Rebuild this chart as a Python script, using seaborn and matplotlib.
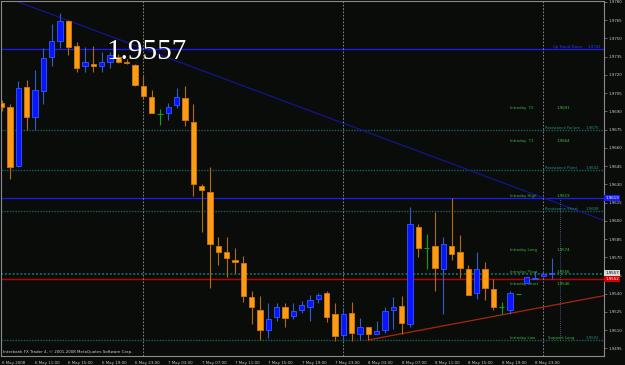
import matplotlib
matplotlib.use("Agg")
import matplotlib.pyplot as plt
import matplotlib.transforms as mtransforms
import numpy as np
import pandas as pd
import seaborn as sns

# GBPUSD-like hourly bars, 6 May 2008 07:00 -> 8 May 2008 23:00
opens = [1.9697, 1.9694, 1.9645, 1.9710, 1.9685, 1.9707, 1.9735, 1.9748, 1.9764, 1.9744,
         1.9727, 1.9729, 1.9727, 1.9731, 1.9735, 1.9731, 1.9728, 1.9711, 1.9702, 1.9688,
         1.9689, 1.9695, 1.9701, 1.9681, 1.9629, 1.9624, 1.9579, 1.9574, 1.9568, 1.9565,
         1.9537, 1.9527, 1.9510, 1.9521, 1.9529, 1.9522, 1.9527, 1.9529, 1.9536, 1.9541,
         1.9523, 1.9506, 1.9524, 1.9507, 1.9513, 1.9507, 1.9510, 1.9527, 1.9530, 1.9515,
         1.9595, 1.9578, 1.9579, 1.9560, 1.9579, 1.9574, 1.9560, 1.9541, 1.9560, 1.9544,
         1.9529, 1.9527, 1.9540, 1.9549, 1.9552, 1.9555, 1.9556]
highs = [1.9699, 1.9696, 1.9715, 1.9716, 1.9724, 1.9742, 1.9762, 1.9771, 1.9765, 1.9747,
         1.9743, 1.9744, 1.9739, 1.9739, 1.9737, 1.9733, 1.9729, 1.9719, 1.9708, 1.9692,
         1.9697, 1.9709, 1.9711, 1.9696, 1.9630, 1.9644, 1.9587, 1.9587, 1.9578, 1.9571,
         1.9542, 1.9538, 1.9532, 1.9532, 1.9532, 1.9532, 1.9534, 1.9539, 1.9541, 1.9542,
         1.9532, 1.9528, 1.9533, 1.9520, 1.9513, 1.9518, 1.9529, 1.9537, 1.9538, 1.9611,
         1.9597, 1.9589, 1.9607, 1.9587, 1.9619, 1.9588, 1.9564, 1.9574, 1.9566, 1.9552,
         1.9533, 1.9542, 1.9540, 1.9554, 1.9559, 1.9559, 1.9569]
lows = [1.9690, 1.9634, 1.9644, 1.9675, 1.9675, 1.9696, 1.9727, 1.9742, 1.9736, 1.9722,
        1.9722, 1.9722, 1.9722, 1.9726, 1.9730, 1.9729, 1.9711, 1.9700, 1.9689, 1.9679,
        1.9683, 1.9693, 1.9678, 1.9620, 1.9591, 1.9545, 1.9564, 1.9554, 1.9557, 1.9533,
        1.9515, 1.9502, 1.9504, 1.9518, 1.9513, 1.9519, 1.9524, 1.9518, 1.9532, 1.9517,
        1.9501, 1.9502, 1.9501, 1.9502, 1.9502, 1.9507, 1.9508, 1.9511, 1.9507, 1.9513,
        1.9570, 1.9560, 1.9542, 1.9523, 1.9568, 1.9553, 1.9539, 1.9536, 1.9535, 1.9527,
        1.9523, 1.9523, 1.9540, 1.9549, 1.9552, 1.9554, 1.9552]
closes = [1.9694, 1.9644, 1.9709, 1.9685, 1.9708, 1.9734, 1.9748, 1.9764, 1.9743, 1.9726,
          1.9731, 1.9727, 1.9731, 1.9736, 1.9731, 1.9730, 1.9712, 1.9703, 1.9689, 1.9688,
          1.9694, 1.9702, 1.9683, 1.9630, 1.9625, 1.9581, 1.9574, 1.9569, 1.9566, 1.9538,
          1.9529, 1.9510, 1.9519, 1.9529, 1.9520, 1.9526, 1.9531, 1.9535, 1.9539, 1.9521,
          1.9505, 1.9523, 1.9508, 1.9513, 1.9507, 1.9509, 1.9526, 1.9529, 1.9516, 1.9597,
          1.9578, 1.9578, 1.9561, 1.9581, 1.9573, 1.9561, 1.9539, 1.9560, 1.9545, 1.9529,
          1.9529, 1.9541, 1.9540, 1.9554, 1.9553, 1.9556, 1.9557]

# time axis labels, one every 4 bars
time_labels = ["6 May 2008", "6 May 11:00", "6 May 15:00", "6 May 19:00", "6 May 23:00",
               "7 May 03:00", "7 May 07:00", "7 May 11:00", "7 May 15:00", "7 May 19:00",
               "7 May 23:00", "8 May 03:00", "8 May 07:00", "8 May 11:00", "8 May 15:00",
               "8 May 19:00", "8 May 23:00"]
day_starts = [17, 41, 65]

price_ticks = [1.9780 - 0.0015 * k for k in range(20)]

# indicator levels
up_trend_done = 1.9741
resistance_names = ["Resistance Failure", "Resistance Point", "Resistance Short"]
resistance_levels = [1.9675, 1.9642, 1.9608]
intraday_names = ["Intraday  T2", "Intraday  T1", "Intraday High", "Intraday Long",
                  "Intraday Pivot", "Intraday Short", "Intraday Low"]
intraday_levels = [1.9691, 1.9664, 1.9619, 1.9574, 1.9556, 1.9546, 1.9502]
pivot_level = 1.9556
bid_price = 1.9557
red_level = 1.9552

# trend lines (bar index, price)
down_trend = ([-1, 72.5], [1.97877, 1.95997])
up_trend = ([44, 72.5], [1.9502, 1.95387])

df = pd.DataFrame({"o": opens, "h": highs, "l": lows, "c": closes})
df["i"] = np.arange(len(df))

sns.set_theme(style="dark", rc={
    "axes.facecolor": "#0a0c0a",
    "figure.facecolor": "#0a0c0a",
    "axes.edgecolor": "#8a8a8a",
    "axes.linewidth": 0.8,
})
plt.rcParams["font.family"] = ["DejaVu Sans"]

fig = plt.figure(figsize=(6.25, 3.65), dpi=100)
ax = fig.add_axes([1 / 625, 9 / 365, 603 / 625, 355 / 365])
ax.set_xlim(-0.08, 72.28)
ax.set_ylim(1.94888, 1.97808)

teal = "#1d5f5a"
# horizontal levels
ax.axhline(up_trend_done, color="#1a1aff", lw=0.9)
for lv in resistance_levels:
    ax.axhline(lv, color=teal, lw=1.0, ls=(0, (1, 1)))
ax.axhline(intraday_levels[2], color="#1a1aff", lw=0.9)
ax.axhline(pivot_level, color=teal, lw=1.4, ls=(0, (1, 1)))
ax.axhline(intraday_levels[-1], color=teal, lw=1.0, ls=(0, (1, 1)))
ax.axhline(red_level, color="#c00000", lw=1.0)

# trend lines
sns.lineplot(x=down_trend[0], y=down_trend[1], ax=ax, color="#14148c", lw=0.9)
sns.lineplot(x=up_trend[0], y=up_trend[1], ax=ax, color="#a8280e", lw=0.9)

# day separators
for d in day_starts:
    ax.axvline(d, color="#9a9a9a", lw=0.6, ls=(0, (2, 2)))
ax.vlines(67, intraday_levels[-1], intraday_levels[2], color="#5a72a0", lw=0.6, ls=(0, (1, 1.5)))

# candles
bull = df[df.c > df.o]
bear = df[df.c < df.o]
doji = df[df.c == df.o]
w = 0.62
ax.vlines(bear.i, bear.l, bear.h, color="#b06a12", lw=0.8, zorder=3)
ax.vlines(bull.i, bull.l, bull.h, color="#2f5fc8", lw=0.8, zorder=3)
ax.vlines(doji.i, doji.l, doji.h, color="#10a010", lw=0.8, zorder=3)
ax.bar(bear.i, bear.o - bear.c, bottom=bear.c, width=w, color="#ff9a14",
       edgecolor="#d07a08", lw=0.6, zorder=4)
ax.bar(bull.i, bull.c - bull.o, bottom=bull.o, width=w, color="#0a14ff",
       edgecolor="#2f5cff", lw=0.6, zorder=4)
ax.hlines(doji.c, doji.i - w / 2, doji.i + w / 2, color="#10a010", lw=0.8, zorder=4)

# indicator texts
fs = 2.8
for name, lv in zip(resistance_names, resistance_levels):
    ax.text(65.2, lv, name, color="#2a8a84", fontsize=fs, va="bottom", ha="left")
    ax.text(71.7, lv, f"{lv:.4f}", color="#2a8a84", fontsize=fs, va="bottom", ha="right")
for name, lv in zip(intraday_names, intraday_levels):
    ax.text(61.0, lv, name, color="#3cb43c", fontsize=fs, va="bottom", ha="left")
    if name != "Intraday Low":
        ax.text(66.6, lv, f"{lv:.4f}", color="#3cc83c", fontsize=fs, va="bottom", ha="left")
ax.text(65.6, intraday_levels[-1], "Support Long", color="#3cb43c", fontsize=fs, va="bottom")
ax.text(71.7, intraday_levels[-1], f"{intraday_levels[-1]:.4f}", color="#2a8a84",
        fontsize=fs, va="bottom", ha="right")
ax.text(66.2, up_trend_done, "Up Trend Done", color="#2a3cff", fontsize=fs, va="bottom")
ax.text(72.0, up_trend_done, f"{up_trend_done:.4f}", color="#2a3cff", fontsize=fs,
        va="bottom", ha="right")

# axes
ax.yaxis.tick_right()
ax.set_yticks(price_ticks)
ax.set_yticklabels([f"{p:.4f}" for p in price_ticks])
ax.set_xticks(np.arange(0, 65, 4))
ax.set_xticklabels(time_labels, ha="left")
ax.tick_params(axis="both", colors="#8a8a8a", labelcolor="#c8c8c8", labelsize=2.9,
               length=2, width=0.5, pad=1, direction="out")
ax.tick_params(axis="x", pad=1.5)
ax.grid(False)

# price labels on the right axis
tr = mtransforms.blended_transform_factory(ax.transAxes, ax.transData)
for lv, bg, fg in [(intraday_levels[2], "#1a1aff", "white"), (bid_price, "#d8d8d8", "black"),
                   (red_level, "#d00000", "white")]:
    ax.text(1.002, lv, f"{lv:.4f}", transform=tr, fontsize=2.9, color=fg, va="center",
            ha="left", bbox=dict(boxstyle="square,pad=0.25", fc=bg, ec="none"), clip_on=False)

fig.text(3 / 625, 1 - 352 / 365, "Interbank FX Trader 4, \u00a9 2001-2008 MetaQuotes Software Corp.",
         fontsize=2.9, color="#d0d0d0", va="center")
fig.text(106 / 625, 1 - 59 / 365, f"{bid_price:.4f}", fontsize=21, color="white",
         family=["Liberation Serif", "DejaVu Serif"], va="baseline")

fig.savefig("out.png", dpi=100)
